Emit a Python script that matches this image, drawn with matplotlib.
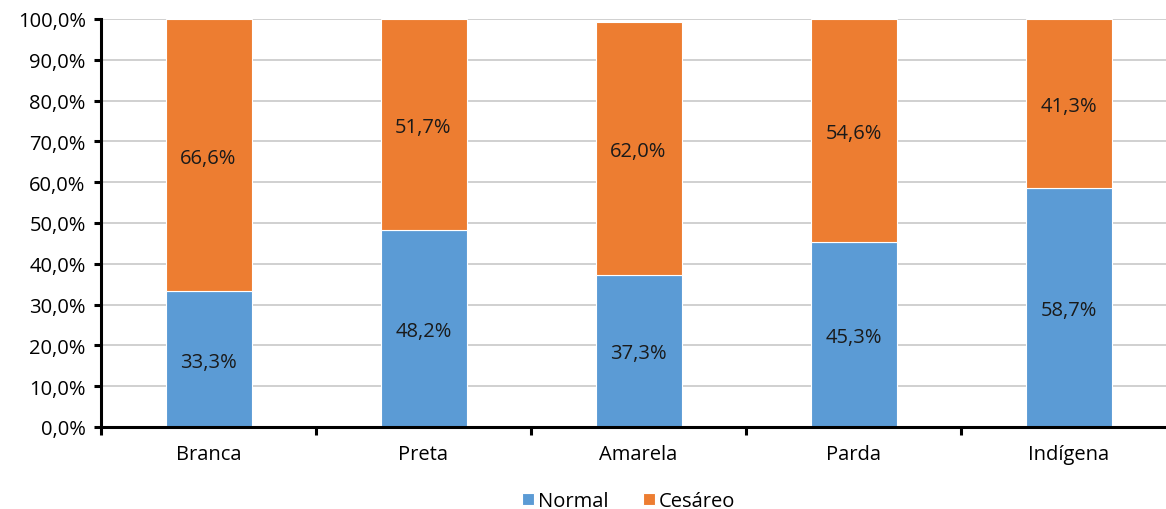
import numpy as np
import matplotlib.pyplot as plt
from matplotlib.ticker import FixedLocator, FuncFormatter

plt.rcParams['font.family'] = ['Open Sans', 'DejaVu Sans']

categorias = ['Branca', 'Preta', 'Amarela', 'Parda', 'Indígena']
normal = [33.3, 48.2, 37.3, 45.3, 58.7]
cesareo = [66.6, 51.7, 62.0, 54.6, 41.3]

azul = '#5B9BD5'
laranja = '#ED7D31'
fs = 14.5

fig = plt.figure(figsize=(11.66, 5.10), dpi=100)
ax = fig.add_axes([101 / 1166, 1 - 428 / 510, 1075 / 1166, 408 / 510])

x = np.arange(len(categorias))
b1 = ax.bar(x, normal, width=0.4, color=azul, edgecolor='white', linewidth=0.8,
            label='Normal', zorder=2)
b2 = ax.bar(x, cesareo, width=0.4, bottom=normal, color=laranja, edgecolor='white',
            linewidth=0.8, label='Cesáreo', zorder=2)

# rótulos no meio de cada segmento
for xi, n, c in zip(x, normal, cesareo):
    ax.text(xi, n / 2 - 0.6, f'{n:.1f}%'.replace('.', ','), ha='center', va='center',
            fontsize=fs, color='#1a1a1a', zorder=3)
    ax.text(xi, n + c / 2 - 0.6, f'{c:.1f}%'.replace('.', ','), ha='center', va='center',
            fontsize=fs, color='#1a1a1a', zorder=3)

ax.set_xlim(-0.5, len(categorias) - 0.5)
ax.set_ylim(0, 100)
ax.set_yticks(np.arange(0, 101, 10))
ax.yaxis.set_major_formatter(FuncFormatter(lambda v, p: f'{v:.1f}%'.replace('.', ',')))
ax.yaxis.grid(True, color='#c8c8c8', linewidth=1.2, zorder=0)
ax.set_axisbelow(True)

ax.set_xticks(x)
ax.set_xticklabels(categorias)
ax.xaxis.set_minor_locator(FixedLocator(np.arange(-0.5, len(categorias), 1.0)))
ax.tick_params(axis='x', which='major', length=0, pad=12.5, labelsize=fs)
ax.tick_params(axis='x', which='minor', length=6, width=2.2, direction='out')
ax.tick_params(axis='y', which='major', length=5, width=2.2, direction='out',
               pad=6, labelsize=fs)

for s in ['top', 'right']:
    ax.spines[s].set_visible(False)
for s in ['left', 'bottom']:
    ax.spines[s].set_linewidth(2.2)
    ax.spines[s].set_color('black')

fig.legend(handles=[b1, b2], loc='center', bbox_to_anchor=(0.539, 1 - 502 / 510),
           ncol=2, frameon=False, fontsize=fs, handlelength=0.6, handleheight=0.6,
           handletextpad=0.2, columnspacing=1.7)

fig.savefig('out.png', dpi=100)
